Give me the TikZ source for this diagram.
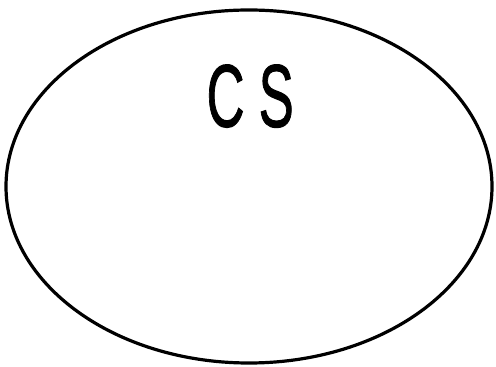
\documentclass[tikz,border=0pt]{standalone}
\usepackage{fontspec}
\setmainfont{Liberation Sans}
\newfontfamily\labelfont[FakeBold=1.3]{Liberation Sans}
\usepackage{tikz}
\usetikzlibrary{shapes.geometric, positioning}

\begin{document}
\begin{tikzpicture}[x=1pt, y=1pt, node distance=56pt]
    \useasboundingbox (0,0) rectangle (496,367);
    \node[ellipse, draw, line width=3.2pt, minimum width=486pt, minimum height=353pt, inner sep=0pt] (cs) at (249,180.5) {};
    \node[inner sep=0pt, xscale=0.59, font=\labelfont\fontsize{89}{96}\selectfont, below=of cs.north, xshift=2pt] (cslabel) {C\hspace{0.27em}S};
\end{tikzpicture}
\end{document}
